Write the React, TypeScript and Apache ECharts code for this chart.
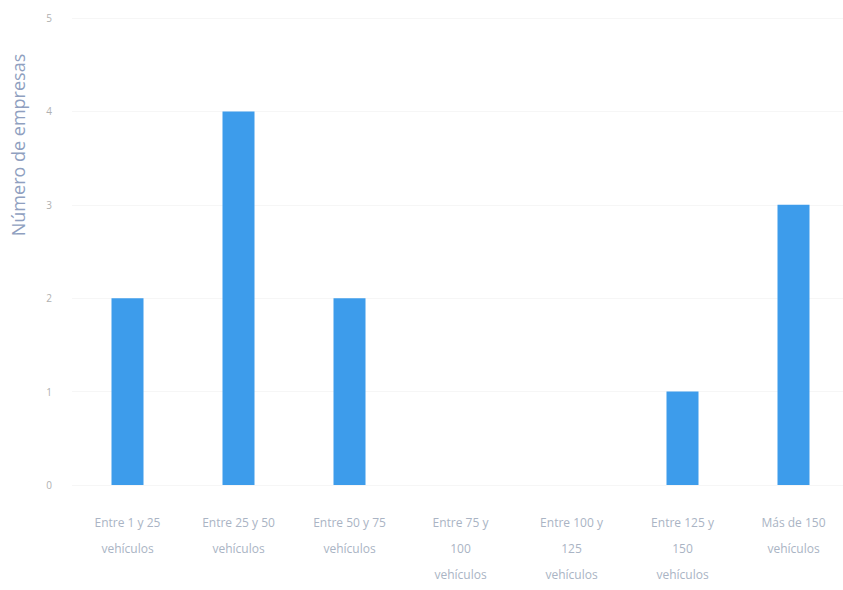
import React, { useEffect, useRef } from "react";
import * as echarts from "echarts";

const categories = [
  "Entre 1 y 25\nvehículos",
  "Entre 25 y 50\nvehículos",
  "Entre 50 y 75\nvehículos",
  "Entre 75 y\n100\nvehículos",
  "Entre 100 y\n125\nvehículos",
  "Entre 125 y\n150\nvehículos",
  "Más de 150\nvehículos",
];
const values = [2, 4, 2, 0, 0, 1, 3];
const yTitle = "Número de empresas";

export default function App() {
  const ref = useRef<HTMLDivElement>(null);
  useEffect(() => {
    if (!ref.current) return;
    const chart = echarts.init(ref.current, null, { renderer: "svg" });
    chart.setOption({
      animation: false,
      backgroundColor: "#ffffff",
      grid: { left: 72, top: 18, width: 777, height: 467, containLabel: false },
      xAxis: {
        type: "category",
        data: categories,
        axisLine: { show: false },
        axisTick: { show: false },
        axisLabel: {
          interval: 0,
          color: "#aab4c4",
          fontSize: 12,
          lineHeight: 26,
          margin: 24,
          fontFamily: "Open Sans",
        },
      },
      yAxis: {
        type: "value",
        min: 0,
        max: 5,
        interval: 1,
        axisLine: { show: false },
        axisTick: { show: false },
        splitLine: { show: true, lineStyle: { color: "#f6f6f6" } },
        axisLabel: { color: "#b0b0b0", fontSize: 10, margin: 20, fontFamily: "Open Sans" },
      },
      graphic: [
        {
          type: "text",
          x: 18,
          y: 145,
          rotation: Math.PI / 2,
          style: {
            text: yTitle,
            fill: "#8f9fc0",
            fontSize: 18,
            fontFamily: "Open Sans",
            align: "center",
            verticalAlign: "middle",
          },
        },
      ],
      series: [
        {
          type: "bar",
          data: values,
          barWidth: 32,
          itemStyle: { color: "#3d9ceb" },
        },
      ],
    });
    return () => chart.dispose();
  }, []);
  return (
    <div
      ref={ref}
      style={{ position: "fixed", left: 0, top: 0, width: 860, height: 590 }}
    />
  );
}
